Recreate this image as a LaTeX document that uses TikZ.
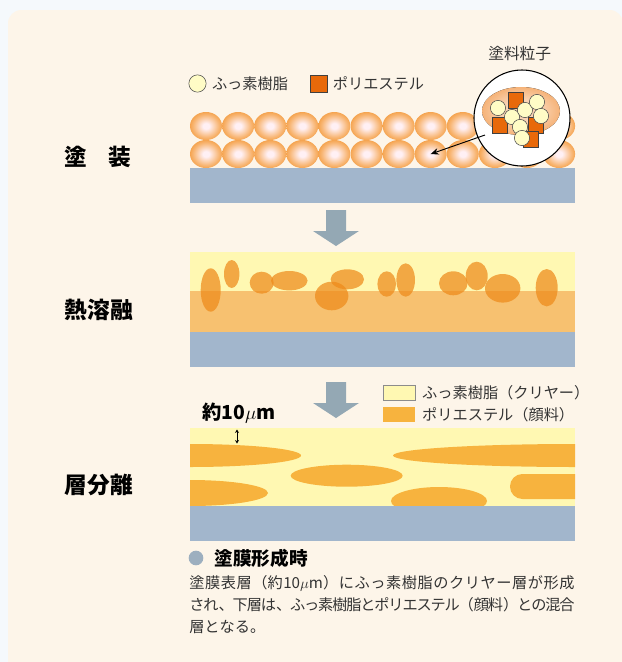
\documentclass[tikz,border=0pt]{standalone}
\usepackage{fontspec}
\setmainfont{Noto Sans CJK JP}
\usetikzlibrary{arrows.meta,positioning,shapes.geometric,calc}

\definecolor{outside}{HTML}{F5F9FC}
\definecolor{paper}{HTML}{FDF5E9}
\definecolor{base}{HTML}{A2B6CC}
\definecolor{clear}{HTML}{FFF8B2}
\definecolor{mixed}{HTML}{F7C170}
\definecolor{pigment}{HTML}{F7B33E}
\definecolor{blob}{HTML}{EE8A1A}
\definecolor{ball}{HTML}{F08A1C}
\definecolor{orbcore}{HTML}{FFF0F4}
\definecolor{orbmid}{HTML}{F8B674}
\definecolor{lenscore}{HTML}{FAD4B4}
\definecolor{lensedge}{HTML}{F29C50}
\definecolor{poly}{HTML}{E8690A}
\definecolor{fluoro}{HTML}{FFFCC6}
\definecolor{steparrow}{HTML}{94A8B4}
\definecolor{dot}{HTML}{9DAFBF}
\definecolor{ink}{HTML}{333333}

\pgfdeclareradialshading{orb}{\pgfpoint{0bp}{0bp}}{color(0bp)=(orbcore); color(5bp)=(orbcore); color(20bp)=(orbmid); color(33bp)=(ball); color(50bp)=(ball)}
\pgfdeclareradialshading{lens}{\pgfpoint{0bp}{0bp}}{color(0bp)=(lenscore); color(12bp)=(lenscore); color(34bp)=(lensedge); color(50bp)=(lensedge)}

% stretchable gaps between Japanese characters
\XeTeXlinebreaklocale "ja"
\XeTeXlinebreakskip=0pt plus 1.5pt minus 1.2pt

\tikzset{
  stage/.style={anchor=west,font=\fontsize{17pt}{20pt}\selectfont\bfseries},
  keytext/.style={anchor=west,inner sep=0pt,text=ink,font=\fontsize{11.4pt}{14pt}\selectfont},
  particle/.style={draw=none,ellipse,shading=orb,minimum width=24pt,minimum height=21pt,inner sep=0pt},
  resin/.style={fill=fluoro,draw=black!70,line width=0.4pt},
  polyester/.style={fill=poly,draw=black!75,line width=0.4pt},
}

\begin{document}
\begin{tikzpicture}[x=0.75pt,y=-0.75pt]
  \useasboundingbox (0,0) rectangle (622,662);
  \fill[outside] (0,0) rectangle (622,662);
  \fill[paper,rounded corners=10pt] (8,10) rectangle (623,700);

  % --- coating ---
  \node[stage] (coat) at (60,157) {塗\hspace{0.95em}装};
  \fill[base] (190,168) rectangle (575,203);
  \foreach \r/\y in {1/126,2/154}
    \foreach \i in {0,...,11}
      \node[particle] (b\r\i) at ({206+32.1*\i},\y) {};

  \node[circle,resin,minimum size=13pt,inner sep=0pt] (keyf) at (197.5,83.5) {};
  \node[keytext,right=4pt of keyf] (keyftext) {ふっ素樹脂};
  \node[rectangle,polyester,minimum size=12.75pt,inner sep=0pt] (keyp) at (318.5,83.5) {};
  \node[keytext,right=4pt of keyp] (keyptext) {ポリエステル};

  % magnified particle
  \node[circle,fill=white,draw=black,line width=0.8pt,minimum size=72pt,inner sep=0pt] (lens) at (522,118) {};
  \fill[shading=lens] (521,111) ellipse [x radius=39,y radius=24];
  \foreach \x/\y in {508/92,492/117,528/117,523/131}
    \filldraw[polyester] (\x,\y) rectangle ++(15,16);
  \foreach \x/\y in {498/108,512/117,525/110,537/102,541/116,520/127,522/138}
    \filldraw[resin] (\x,\y) circle [radius=7.6];
  \node[keytext,font=\fontsize{11.8pt}{14pt}\selectfont] (lenstext) at (488,54) {塗料粒子};
  \coordinate (lenstail) at (485,135);
  \draw[-{Stealth[length=6pt,width=5pt]},line width=0.7pt] (lenstail) -- (b27.center);

  % step arrows
  \foreach \t in {210,382}
    \fill[steparrow] (326,\t) -- (346,\t) -- (346,{\t+21}) -- (359,{\t+21})
      -- (336,{\t+36}) -- (313,{\t+21}) -- (326,{\t+21}) -- cycle;

  % --- melting ---
  \node[stage] (melt) at (60,310) {熱溶融};
  \fill[clear] (190,252) rectangle (575,291);
  \fill[mixed] (190,291) rectangle (575,332);
  \fill[base] (190,332) rectangle (575,367);
  \begin{scope}[fill opacity=0.72]
    \foreach \x/\y/\a/\b in {210.7/290/10/21.7, 231.7/274/7.7/14, 261.7/282.7/12/11,
        289.3/280.7/18.3/9.7, 331.7/296/16.7/14.3, 347.3/279.3/16.7/10,
        386.7/284/9.3/12.7, 405.7/280/9.3/16.7, 453.3/283.3/14.3/12,
        476.7/276/11/14.3, 502.7/288.3/17.7/14.3, 546.7/287.7/11/18.7}
      \fill[blob] (\x,\y) ellipse [x radius=\a,y radius=\b];
  \end{scope}

  % --- separation ---
  \node[stage] (split) at (60,485) {層分離};
  \fill[clear] (190,428) rectangle (575,506);
  \fill[base] (190,506) rectangle (575,541);
  \begin{scope}
    \clip (190,428) rectangle (575,505.5);
    \fill[pigment] (190,455.5) ellipse [x radius=111,y radius=11.5];
    \fill[pigment] (346.7,475.7) ellipse [x radius=56,y radius=11];
    \fill[pigment] (575,455.5) ellipse [x radius=182,y radius=11.5];
    \fill[pigment] (190,493) ellipse [x radius=78,y radius=13];
    \fill[pigment] (439,501) ellipse [x radius=48,y radius=14];
    \fill[pigment,rounded corners=9.3pt] (510,474) rectangle (600,499);
  \end{scope}

  \node[rectangle,fill=clear,draw=black!45,line width=0.4pt,minimum width=24pt,minimum height=11.25pt,inner sep=0pt] (keyclear) at (399,392.5) {};
  \node[keytext,right=5pt of keyclear] (keycleartext) {ふっ素樹脂（クリヤー）};
  \node[rectangle,fill=pigment,minimum width=24pt,minimum height=11.25pt,inner sep=0pt] (keypig) at (399,414.5) {};
  \node[keytext,right=5pt of keypig] (keypigtext) {ポリエステル（顔料）};

  \node[anchor=west,inner sep=0pt,font=\fontsize{14.5pt}{17pt}\selectfont\bfseries] (filmlabel) at (202,413) {約10$\mu$m};
  \coordinate (filmtop) at (237,429.5);
  \coordinate (filmbot) at (237,443.5);
  \draw[{Stealth[length=2.6pt,width=3pt]}-{Stealth[length=2.6pt,width=3pt]},line width=0.6pt] (filmtop) -- (filmbot);

  % --- note ---
  \node[circle,fill=dot,minimum size=11pt,inner sep=0pt] (notedot) at (196,558) {};
  \node[anchor=west,inner sep=0pt,font=\fontsize{14pt}{17pt}\selectfont\bfseries,right=8pt of notedot] (notehead) {塗膜形成時};
  \node[anchor=north west,inner sep=0pt,text=ink,text width=289pt,align=justify,font=\fontsize{11.4pt}{16.5pt}\selectfont] (notebody) at (189,575)
    {塗膜表層（約10$\mu$m）にふっ素樹脂のクリヤー層が形成\linebreak
     され、下層は、ふっ素樹脂とポリエステル（顔料）との混合\linebreak
     層となる。};
\end{tikzpicture}
\end{document}
